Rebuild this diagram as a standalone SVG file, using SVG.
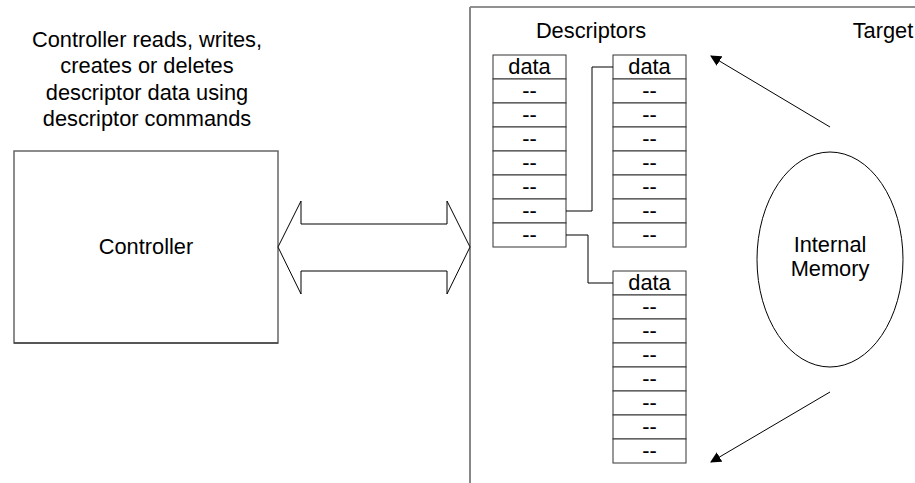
<svg xmlns="http://www.w3.org/2000/svg" width="915" height="483" viewBox="0 0 915 483">
<defs>
<marker id="ah" viewBox="0 0 10 10" refX="9" refY="5" markerWidth="11" markerHeight="11" markerUnits="userSpaceOnUse" orient="auto">
<path d="M0,0 L10,5 L0,10 Z" fill="#000"/>
</marker>
<style>
text{font-family:"Liberation Sans",Arial,sans-serif;font-size:21.8px;fill:#000;text-anchor:middle}
.cell{fill:#fff;stroke:#333;stroke-width:1}
.link{fill:none;stroke:#000;stroke-width:1}
.arr{fill:none;stroke:#000;stroke-width:1}
</style>
</defs>
<rect width="915" height="483" fill="#fff"/>
<g id="note">
<text x="147" y="47">Controller reads, writes,</text>
<text x="147" y="73">creates or deletes</text>
<text x="147" y="100">descriptor data using</text>
<text x="147" y="126">descriptor commands</text>
</g>
<g id="controller">
<rect x="14" y="151" width="264" height="192" fill="#fff" stroke="#666" stroke-width="1.5"/>
<line x1="14" y1="343" x2="278" y2="343" stroke="#222" stroke-width="1.2"/>
<text x="146" y="254">Controller</text>
</g>
<g id="target">
<line x1="470" y1="7" x2="915" y2="7" stroke="#222" stroke-width="1.2"/>
<line x1="470" y1="7" x2="470" y2="483" stroke="#888" stroke-width="2"/>
<text x="883" y="38">Target</text>
<text x="591" y="38">Descriptors</text>
</g>
<g id="bus">
<path d="M278,247 L301,201 L301,224 L447,224 L447,201 L470,247 L447,294 L447,271 L301,271 L301,294 Z" fill="#fff" stroke="#000" stroke-width="1"/>
</g>
<g id="desc1">
<rect class="cell" x="493" y="55" width="73" height="24"/><text x="529.5" y="74">data</text>
<rect class="cell" x="493" y="79" width="73" height="24"/><text x="529.5" y="98">--</text>
<rect class="cell" x="493" y="103" width="73" height="24"/><text x="529.5" y="122">--</text>
<rect class="cell" x="493" y="127" width="73" height="24"/><text x="529.5" y="146">--</text>
<rect class="cell" x="493" y="151" width="73" height="24"/><text x="529.5" y="170">--</text>
<rect class="cell" x="493" y="175" width="73" height="24"/><text x="529.5" y="194">--</text>
<rect class="cell" x="493" y="199" width="73" height="24"/><text x="529.5" y="218">--</text>
<rect class="cell" x="493" y="223" width="73" height="24"/><text x="529.5" y="242">--</text>
</g>
<g id="desc2">
<rect class="cell" x="613" y="55" width="73" height="24"/><text x="649.5" y="74">data</text>
<rect class="cell" x="613" y="79" width="73" height="24"/><text x="649.5" y="98">--</text>
<rect class="cell" x="613" y="103" width="73" height="24"/><text x="649.5" y="122">--</text>
<rect class="cell" x="613" y="127" width="73" height="24"/><text x="649.5" y="146">--</text>
<rect class="cell" x="613" y="151" width="73" height="24"/><text x="649.5" y="170">--</text>
<rect class="cell" x="613" y="175" width="73" height="24"/><text x="649.5" y="194">--</text>
<rect class="cell" x="613" y="199" width="73" height="24"/><text x="649.5" y="218">--</text>
<rect class="cell" x="613" y="223" width="73" height="24"/><text x="649.5" y="242">--</text>
</g>
<g id="desc3">
<rect class="cell" x="613" y="271" width="73" height="24"/><text x="649.5" y="290">data</text>
<rect class="cell" x="613" y="295" width="73" height="24"/><text x="649.5" y="314">--</text>
<rect class="cell" x="613" y="319" width="73" height="24"/><text x="649.5" y="338">--</text>
<rect class="cell" x="613" y="343" width="73" height="24"/><text x="649.5" y="362">--</text>
<rect class="cell" x="613" y="367" width="73" height="24"/><text x="649.5" y="386">--</text>
<rect class="cell" x="613" y="391" width="73" height="24"/><text x="649.5" y="410">--</text>
<rect class="cell" x="613" y="415" width="73" height="24"/><text x="649.5" y="434">--</text>
<rect class="cell" x="613" y="439" width="73" height="24"/><text x="649.5" y="458">--</text>
</g>
<g id="memory">
<ellipse cx="830" cy="259.5" rx="73" ry="107.5" fill="#fff" stroke="#000" stroke-width="1"/>
<text x="830" y="252">Internal</text>
<text x="830" y="276">Memory</text>
</g>
<g id="connectors">
<polyline class="link" points="566,211 592,211 592,67 613,67"/>
<polyline class="link" points="566,235 588,235 588,283 613,283"/>
<line class="arr" x1="830" y1="127" x2="711" y2="56" marker-end="url(#ah)"/>
<line class="arr" x1="830" y1="392" x2="711" y2="462" marker-end="url(#ah)"/>
</g>
</svg>
